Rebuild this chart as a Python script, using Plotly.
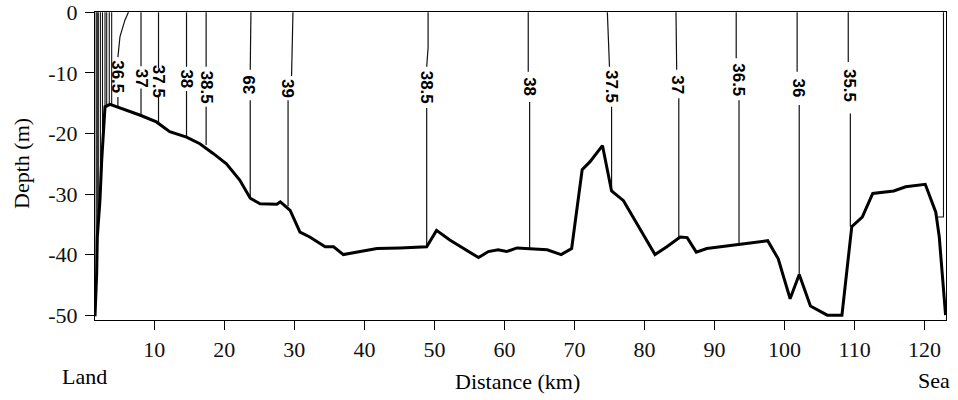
import plotly.graph_objects as go

# Bathymetry profile (distance km, depth m)
bathy_x = [1.53, 1.77, 1.86, 2.24, 2.49, 2.96, 3.67, 8.0, 10.3, 12.2, 14.6, 16.5, 18.4, 20.3,
           22.2, 23.7, 25.1, 27.5, 28.0, 29.4, 30.8, 32.2, 34.4, 35.6, 37.0, 38.9, 41.8,
           45.1, 48.9, 50.3, 52.2, 56.3, 57.7, 59.1, 60.3, 61.8, 66.1, 68.1, 69.6, 71.1,
           72.2, 74.0, 75.3, 77.0, 81.5, 83.2, 85.1, 86.1, 87.4, 88.9, 92.7, 95.1, 97.6,
           99.1, 100.8, 102.1, 103.7, 106.1, 108.2, 109.6, 111.1, 112.6, 115.6, 117.3,
           120.1, 121.6, 122.1, 123.0]
bathy_depth = [-50.2, -43.1, -37.1, -31.0, -24.4, -15.6, -15.2, -17.0, -18.1, -19.7, -20.6,
               -21.7, -23.3, -25.0, -27.7, -30.7, -31.6, -31.7, -31.3, -32.7, -36.3, -37.1,
               -38.7, -38.7, -40.0, -39.6, -39.0, -38.9, -38.7, -36.0, -37.6, -40.5, -39.5,
               -39.2, -39.5, -38.9, -39.2, -40.0, -39.0, -26.0, -24.7, -22.0, -29.5, -31.1,
               -40.0, -38.7, -37.1, -37.2, -39.6, -39.0, -38.5, -38.1, -37.7, -40.7, -47.3,
               -43.3, -48.5, -50.0, -50.0, -35.4, -33.8, -29.9, -29.5, -28.8, -28.4, -33.0,
               -37.1, -50.0]

# Labelled isohalines: upper part (surface -> above label), lower part (below label -> bottom)
iso_labels = ["36.5", "37", "37.5", "38", "38.5", "39", "39", "38.5", "38", "37.5",
              "37", "36.5", "36", "35.5"]
iso_label_angle = [90, 90, 90, 90, 90, -90, 90, 90, 90, 90, 90, 90, 90, 90]
iso_upper_x = [[6.3, 5.8, 5.1, 4.8], [8.1, 8.1], [10.6, 10.6], [14.6, 14.6], [17.4, 17.4],
               [23.8, 23.7], [29.8, 29.6], [49.1, 49.1, 48.9], [63.4, 63.4], [74.7, 75.0],
               [84.5, 84.6], [93.1, 93.1], [101.8, 101.8], [109.1, 109.1]]
iso_upper_depth = [[0, -1.3, -4.0, -7.4], [0, -8.9], [0, -9.2], [0, -9.0], [0, -9.0],
                   [0, -9.5], [0, -10.5], [0, -5.8, -9.0], [0, -9.8], [0, -9.0],
                   [0, -9.5], [0, -7.6], [0, -9.8], [0, -8.2]]
iso_lower_x = [[4.8, 4.8], [8.1, 8.1], [10.6, 10.6], [14.6, 14.6], [17.4, 17.4],
               [23.7, 23.7], [29.1, 29.1], [48.9, 48.9], [63.6, 63.6], [75.3, 75.3],
               [84.9, 84.9], [93.5, 93.5], [102.1, 102.1], [109.4, 109.4]]
iso_lower_depth = [[-14.0, -15.5], [-12.6, -17.0], [-13.7, -18.3], [-13.0, -20.6],
                   [-15.6, -21.9], [-14.5, -30.7], [-14.5, -32.0], [-15.8, -38.7],
                   [-14.8, -39.0], [-15.6, -28.8], [-14.2, -37.2], [-14.5, -38.4],
                   [-15.3, -43.3], [-16.7, -35.4]]
iso_label_x = [4.8, 8.1, 10.6, 14.6, 17.4, 23.7, 29.1, 48.9, 63.6, 75.2, 84.8, 93.4, 102.0, 109.3]
iso_label_depth = [-10.7, -10.8, -11.4, -11.0, -12.3, -12.0, -12.5, -12.4, -12.3, -12.3,
                   -11.9, -11.1, -12.5, -12.1]

# Unlabelled, tightly packed isohalines near the land and at the sea end
extra_x = [[1.70, 1.70], [1.85, 1.85], [2.0, 2.0], [2.3, 2.3], [2.6, 2.6], [2.96, 2.96],
           [3.2, 3.2], [3.57, 3.57], [3.91, 3.91], [122.7, 122.7, 121.9]]
extra_depth = [[0, -44], [0, -37], [0, -33], [0, -29], [0, -24], [0, -15.8],
               [0, -15.4], [0, -15.2], [0, -15.3], [0, -33.8, -33.8]]

x_ticks = [10, 20, 30, 40, 50, 60, 70, 80, 90, 100, 110, 120]
y_ticks = [0, -10, -20, -30, -40, -50]
y_tick_text = ["0", "-10", "-20", "-30", "-40", "-50"]

SERIF = "Liberation Serif, Times New Roman, serif"
SANS = "Liberation Sans, Arial, sans-serif"

fig = go.Figure()

for xs, ds in zip(extra_x, extra_depth):
    fig.add_trace(go.Scatter(x=xs, y=ds, mode="lines",
                             line=dict(color="#111", width=1.1),
                             hoverinfo="skip", showlegend=False))

for ux, ud, lx, ld in zip(iso_upper_x, iso_upper_depth, iso_lower_x, iso_lower_depth):
    fig.add_trace(go.Scatter(x=ux + [None] + lx, y=ud + [None] + ld, mode="lines",
                             line=dict(color="#111", width=1.2), connectgaps=False,
                             hoverinfo="skip", showlegend=False))

fig.add_trace(go.Scatter(x=bathy_x, y=bathy_depth, mode="lines",
                         line=dict(color="black", width=3),
                         hoverinfo="skip", showlegend=False))

for lab, lx, ld, ang in zip(iso_labels, iso_label_x, iso_label_depth, iso_label_angle):
    fig.add_annotation(x=lx, y=ld, xref="x", yref="y", text="<b>%s</b>" % lab,
                       showarrow=False, textangle=ang, borderpad=0,
                       font=dict(family=SANS, size=17, color="black"))

fig.add_annotation(x=-0.0123, y=0, xref="paper", yref="paper", text="Land",
                   showarrow=False, yshift=-56, xanchor="center", yanchor="middle",
                   font=dict(family=SERIF, size=22, color="black"))
fig.add_annotation(x=0.497, y=0, xref="paper", yref="paper", text="Distance (km)",
                   showarrow=False, yshift=-61, xanchor="center", yanchor="middle",
                   font=dict(family=SERIF, size=22, color="black"))
fig.add_annotation(x=0.986, y=0, xref="paper", yref="paper", text="Sea",
                   showarrow=False, yshift=-60, xanchor="center", yanchor="middle",
                   font=dict(family=SERIF, size=22, color="black"))
fig.add_annotation(x=-0.0858, y=0.51, xref="paper", yref="paper", text="Depth (m)",
                   showarrow=False, textangle=-90, xanchor="center", yanchor="middle",
                   font=dict(family=SERIF, size=22, color="black"))

fig.update_layout(
    width=958, height=400,
    margin=dict(l=95, r=12, t=12, b=80, autoexpand=False),
    paper_bgcolor="white", plot_bgcolor="white",
    xaxis=dict(range=[1.53, 123.06], tickvals=x_ticks, ticks="outside", ticklen=9,
               tickwidth=1.2, tickcolor="black", showline=True, linecolor="black",
               linewidth=1.2, mirror=True, showgrid=False, zeroline=False,
               tickfont=dict(family=SERIF, size=22, color="#111")),
    yaxis=dict(range=[-50.8, 0.05], tickvals=y_ticks, ticktext=y_tick_text, ticks="outside",
               ticklen=9, tickwidth=1.2, tickcolor="black", showline=True,
               linecolor="black", linewidth=1.2, mirror=True, showgrid=False,
               zeroline=False, ticklabelstandoff=3, ticklabeloverflow="allow",
               tickfont=dict(family=SERIF, size=22, color="#111")),
)

# Remove the browser's default 8px page margin so the 958x400 figure fills the window.
fig.write_html("out.html", config={"displayModeBar": False},
               post_script="document.body.style.margin='0';document.body.style.overflow='hidden';")
